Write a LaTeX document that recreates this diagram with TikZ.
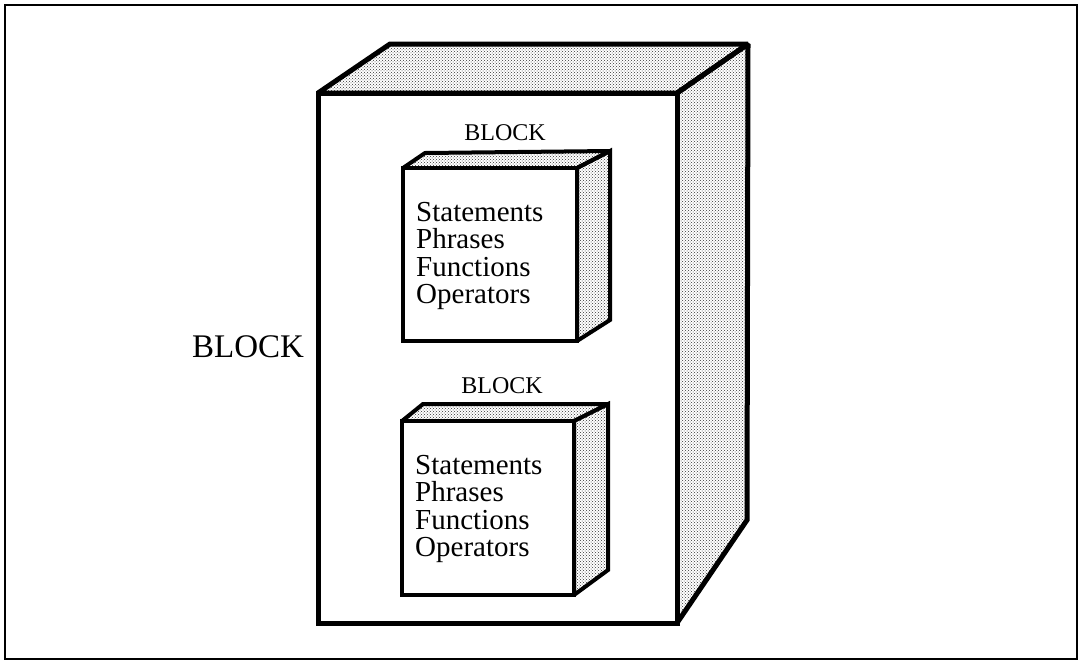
\documentclass[tikz,border=0pt]{standalone}
\usepackage{fontspec}
\setmainfont{Liberation Serif}
\usepackage{tikz}
\usetikzlibrary{patterns}
\tikzstyle{frame} = [line width=2pt]
\tikzstyle{bigface} = [line width=5pt, line join=miter, miter limit=2, fill=white]
\tikzstyle{bigshade} = [line width=5pt, line join=miter, miter limit=2, pattern=crosshatch dots, pattern color=black!80]
\tikzstyle{face} = [line width=4pt, line join=miter, miter limit=2, fill=white]
\tikzstyle{shade} = [line width=4pt, line join=miter, miter limit=2, pattern=crosshatch dots, pattern color=black!80]
\tikzstyle{biglabel} = [font=\fontsize{33}{33}\selectfont, inner sep=0]
\tikzstyle{label} = [font=\fontsize{24}{24}\selectfont, inner sep=0]
\tikzstyle{items} = [font=\fontsize{29}{27.5}\selectfont, align=left, anchor=north west, inner sep=0]

\begin{document}
\begin{tikzpicture}[x=1pt,y=-1pt]
    \useasboundingbox (0,0) rectangle (1082,662);
    \draw [frame] (5,5) rectangle (1077,659);

    % outer block
    \draw [bigshade] (318,93) -- (390,44) -- (748,44) -- (677,93) -- cycle;
    \draw [bigshade] (677,93) -- (748,44) -- (747,520) -- (677,623) -- cycle;
    \draw [bigface] (318,93) rectangle (677,623);
    \node [biglabel, anchor=base] at (248,357) (outer) {BLOCK};

    % upper inner block
    \draw [shade] (403,168) -- (425,153) -- (610,151) -- (577,168) -- cycle;
    \draw [shade] (577,168) -- (610,151) -- (610,320) -- (577,341) -- cycle;
    \draw [face] (403,168) rectangle (577,341);
    \node [label, anchor=base] at (505,140) (upper) {BLOCK};
    \node [items] at (416,202) (upperitems) {Statements\\Phrases\\Functions\\Operators};

    % lower inner block
    \draw [shade] (402,421) -- (423,404) -- (608,404) -- (574,421) -- cycle;
    \draw [shade] (574,421) -- (608,404) -- (608,570) -- (574,595) -- cycle;
    \draw [face] (402,421) rectangle (574,595);
    \node [label, anchor=base] at (502,393) (lower) {BLOCK};
    \node [items] at (415,455) (loweritems) {Statements\\Phrases\\Functions\\Operators};
\end{tikzpicture}
\end{document}
